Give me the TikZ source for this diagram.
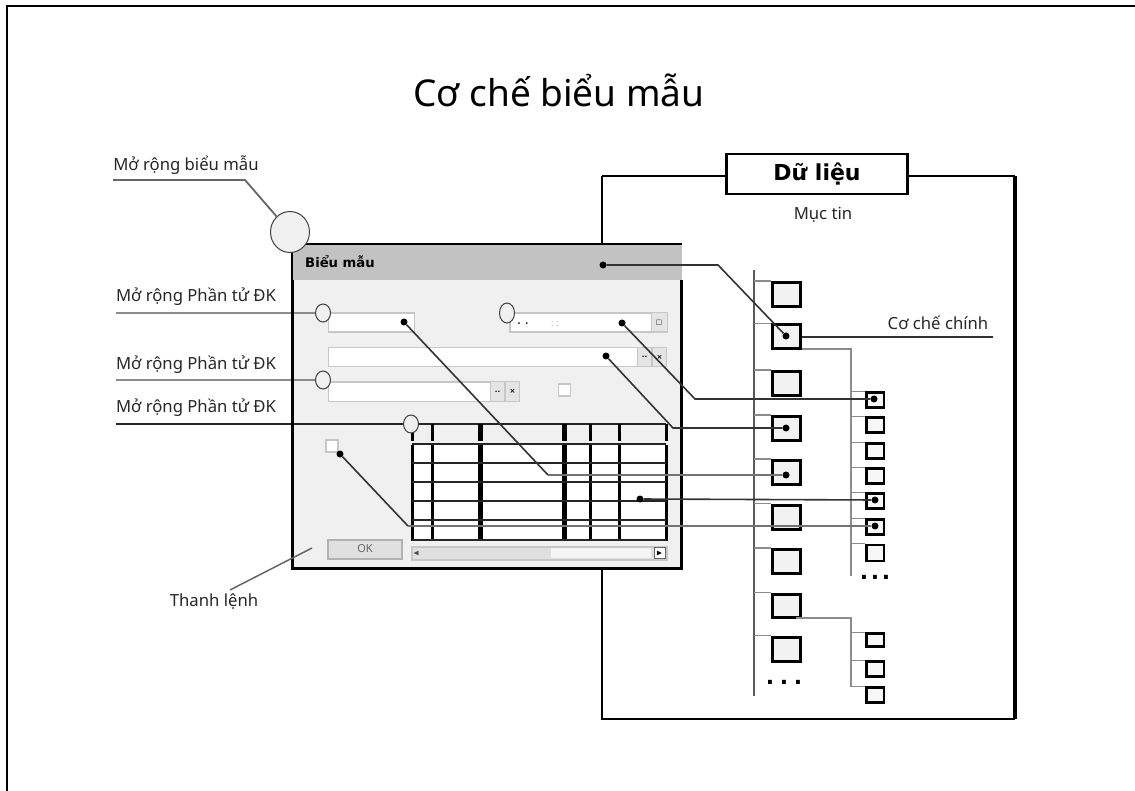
\documentclass[tikz,border=0pt]{standalone}
\usepackage{amssymb}
\usepackage{fontspec}
\setmainfont{Noto Sans}
\newfontfamily\heavyfont{DejaVu Sans}
\usetikzlibrary{
    positioning,
    shapes.geometric,
    calc
}

\begin{document}
\begin{tikzpicture}[
    x=1pt, y=-1pt,
    font=\fontsize{16.7}{20}\selectfont,
    label_text/.style={
        rectangle, draw=none, fill=none, inner sep=0pt, text=black!85
    },
    dots_text/.style={
        rectangle, draw=none, fill=none, inner sep=0pt, text=black,
        font=\fontsize{22}{22}\selectfont\heavyfont\bfseries
    },
    formfield/.style={
        rectangle, draw=black!22, line width=1.5pt, fill=white,
        minimum height=19pt, inner sep=0pt, anchor=north west
    },
    fieldbtn/.style={
        rectangle, draw=black!22, line width=1pt, fill=black!10,
        minimum width=14pt, minimum height=19pt, inner sep=0pt,
        font=\fontsize{7}{8}\selectfont\heavyfont\bfseries
    },
    mainsq/.style={
        rectangle, draw=black, line width=3pt, fill=black!5,
        minimum width=28pt, minimum height=24pt, inner sep=0pt
    },
    subsq/.style={
        rectangle, draw=black, line width=2.5pt, fill=black!3,
        minimum width=17.5pt, minimum height=15pt, inner sep=0pt
    },
    handle/.style={
        ellipse, draw=black!75, line width=1pt, fill=black!6,
        minimum width=15pt, minimum height=18pt, inner sep=0pt
    },
    pin/.style={
        circle, fill=black, minimum size=7pt, inner sep=0pt
    },
    gridv/.style={line width=3pt, black},
    gridh/.style={line width=1.6pt, black!85},
    link/.style={line width=1.6pt, black!80},
    graylink/.style={line width=2.4pt, black!55},
    stub/.style={line width=1.3pt, black!45},
    trunk/.style={line width=1.3pt, black!65}
]
\useasboundingbox (0,0) rectangle (1135,791);

% Page frame
\coordinate (frame_c) at (7,6);
\coordinate (frame_r) at (1135,6);
\coordinate (frame_b) at (7,791);
\draw[line width=2pt, black] (frame_r) -- (frame_c) -- (frame_b);

% Title
\node[label_text, text=black] (title) at (559,90) {\fontsize{37}{42}\selectfont Cơ chế biểu mẫu};

% Data panel
\coordinate (panel_tl) at (602,176);
\coordinate (panel_tr) at (1015,176);
\coordinate (panel_br) at (1015,719);
\coordinate (panel_bl) at (602,719);
\draw[line width=2pt, black] (panel_tl) -- (panel_bl) -- (panel_br);
\draw[line width=2pt, black] (panel_tl) -- (panel_tr);
\draw[line width=4pt, black] (panel_tr) -- (panel_br);
\node[rectangle, draw=black, line width=2.5pt, fill=white, minimum width=181pt,
      minimum height=40pt, inner sep=0pt, font=\fontsize{22}{24}\selectfont\heavyfont\bfseries]
      (data_box) at (817,174) {Dữ liệu};
\node[label_text] (item_label) at (823,215) {Mục tin};

% Form window
\node[rectangle, fill=black!6, minimum width=389pt, minimum height=288pt,
      inner sep=0pt, anchor=north west] (form) at (292,280) {};
\node[rectangle, fill=black!24, minimum width=390pt, minimum height=36pt,
      inner sep=0pt, anchor=north west] (form_bar) at (292,244) {};
\node[label_text, anchor=west, text=black, font=\fontsize{13.2}{15}\selectfont\heavyfont\bfseries]
      (form_label) at (305,262) {Biểu mẫu};
\draw[line width=1.5pt, black] (form_bar.south west) -- (form_bar.north west) -- (form_bar.north east);

% Fields
\node[formfield, minimum width=86pt] (field_a) at (327.5,312.5) {};
\node[formfield, minimum width=157pt] (field_b) at (509,312.5) {};
\node[formfield, minimum width=338pt] (field_c) at (327.5,347) {};
\node[formfield, minimum width=191pt] (field_d) at (327.5,381.5) {};
\node[fieldbtn, anchor=north east, minimum width=16pt] (btn_b) at (field_b.north east) {$\square$};
\node[fieldbtn, anchor=north east] (btn_c2) at (field_c.north east) {×};
\node[fieldbtn, left=0pt of btn_c2] (btn_c1) {..};
\node[fieldbtn, anchor=north east] (btn_d2) at (field_d.north east) {×};
\node[fieldbtn, left=0pt of btn_d2] (btn_d1) {..};
\node[rectangle, draw=black!22, line width=1.5pt, fill=white, minimum size=12pt, inner sep=0pt] (check_a) at (564.5,390) {};
\node[label_text, font=\fontsize{9}{10}\selectfont\heavyfont\bfseries] (field_b_dots) at (523,324) {. .};
\node[label_text, font=\fontsize{9}{10}\selectfont, text=black!35] (field_b_colons) at (555,324) {: :};

% Grid
\node[rectangle, fill=white, minimum width=254pt, minimum height=97pt,
      inner sep=0pt, anchor=north west] (grid_body) at (412,443) {};
\coordinate (grid_head_l) at (412,424);
\coordinate (grid_head_r) at (666,424);
\draw[gridh] (grid_head_l) -- (grid_head_r);
\foreach \gx/\gw in {412/3, 432/3, 480/5, 564/5, 590/3, 619/3, 666/3}{
    \draw[gridv, line width=\gw pt] (\gx,424) -- (\gx,441);
    \draw[gridv, line width=\gw pt] (\gx,445) -- (\gx,541);
}
\foreach \gy in {444, 463, 482, 501, 520, 540}{
    \draw[gridh] (grid_body.west |- 0,\gy) -- (grid_body.east |- 0,\gy);
}

% Scrollbar and buttons
\node[rectangle, draw=black!22, line width=1.5pt, fill=black!12, minimum width=255pt,
      minimum height=13pt, inner sep=0pt, anchor=north west] (scroll) at (411,546) {};
\node[rectangle, fill=black!4, minimum width=100pt, minimum height=10pt, inner sep=0pt,
      anchor=east] (scroll_track) at ([xshift=-16pt]scroll.east) {};
\node[rectangle, draw=black!60, line width=1pt, fill=white, minimum size=11pt, inner sep=0pt,
      anchor=east, font=\fontsize{8}{8}\selectfont] (scroll_right) at ([xshift=-2pt]scroll.east) {$\blacktriangleright$};
\node[label_text, anchor=west, font=\fontsize{8}{8}\selectfont, text=black!70] (scroll_left) at ([xshift=2pt]scroll.west) {$\blacktriangleleft$};
\node[rectangle, draw=black!30, line width=2pt, fill=black!12, minimum width=74pt,
      minimum height=19pt, inner sep=0pt, text=black!60,
      font=\fontsize{11}{12}\selectfont] (ok_btn) at (365,549) {OK};
\node[rectangle, draw=black!22, line width=1.5pt, fill=white, minimum size=12pt, inner sep=0pt] (check_b) at (332,446) {};

% Extension handles of the controls
\node[label_text] (ext_a_label) at (196,297) {Mở rộng Phần tử ĐK};
\node[label_text] (ext_c_label) at (196,365) {Mở rộng Phần tử ĐK};
\node[label_text] (ext_d_label) at (196,408) {Mở rộng Phần tử ĐK};
\coordinate (ext_a_end) at (116,313);
\coordinate (ext_c_end) at (116,380);
\coordinate (ext_d_end) at (116,424);
\coordinate (ext_a_hit) at (323,313);
\coordinate (ext_c_hit) at (323,380);
\coordinate (ext_d_hit) at (411,424);
\draw[line width=2.5pt, black!45] (ext_a_end) -- (ext_a_hit);
\draw[line width=2pt, black!45] (ext_c_end) -- (ext_c_hit);
\draw[line width=1.8pt, black!85] (ext_d_end) -- (ext_d_hit);
\draw[line width=3pt, black] (form.north west) -- (form.south west) -- (form.south east) -- (form.north east);
\node[handle] (ext_a) at (ext_a_hit) {};
\node[handle, minimum height=20pt] (ext_b) at (507,313) {};
\node[handle] (ext_c) at (ext_c_hit) {};
\node[handle] (ext_d) at (ext_d_hit) {};

% Extension handle of the form
\node[handle, minimum width=39pt, minimum height=41pt] (form_ext) at (290,232) {};
\node[label_text] (form_ext_label) at (186,165) {Mở rộng biểu mẫu};
\coordinate (form_ext_end) at (113,180);
\coordinate (form_ext_bend) at (245,180);
\draw[line width=1.8pt, black!60] (form_ext_end) -- (form_ext_bend) -- (form_ext);

% Command bar label
\node[label_text] (cmd_label) at (214,602) {Thanh lệnh};
\coordinate (cmd_a) at (230,590);
\coordinate (cmd_b) at (312,548);
\draw[line width=1.5pt, black!60] (cmd_a) -- (cmd_b);

% Main tree
\coordinate (main_top) at (754,270);
\coordinate (main_bot) at (754,696);
\draw[trunk] (main_top) -- (main_bot);
\node[mainsq] (sq_a) at (786.5,294.5) {};
\node[mainsq] (sq_b) at (786.5,337) {};
\node[mainsq] (sq_c) at (786.5,383.5) {};
\node[mainsq] (sq_d) at (786.5,428.5) {};
\node[mainsq] (sq_e) at (786.5,472.5) {};
\node[mainsq] (sq_f) at (786.5,517) {};
\node[mainsq] (sq_g) at (786.5,561.5) {};
\node[mainsq, minimum height=23pt] (sq_h) at (786.5,605.5) {};
\node[mainsq] (sq_i) at (786.5,649) {};
\node[dots_text] (main_dots) at (784,682) {.\hspace{5.6pt}.\hspace{5.6pt}.};
\foreach \sq in {a,b,c,d,e,f,g,h,i}{
    \draw[stub] (main_top |- sq_\sq.north) -- (sq_\sq.north west);
}

% Main mechanism label
\node[label_text] (main_label) at (938,323) {Cơ chế chính};
\coordinate (main_label_end) at (993,337);
\draw[link] (sq_b.east) -- (main_label_end);

% Sub tree of the second item
\coordinate (subone_top) at (851,349);
\coordinate (subone_bot) at (851,576);
\draw[stub] (sq_b.south east |- subone_top) -- (subone_top) -- (subone_bot);
\node[subsq] (sa_a) at (875,400) {};
\node[subsq] (sa_b) at (875,425) {};
\node[subsq] (sa_c) at (875,451) {};
\node[subsq] (sa_d) at (875,476) {};
\node[subsq] (sa_e) at (875,501) {};
\node[subsq] (sa_f) at (875,527) {};
\node[subsq, minimum height=16pt] (sa_g) at (875,553) {};
\node[dots_text] (subone_dots) at (875,577) {.\hspace{2.6pt}.\hspace{2.6pt}.};
\foreach \sq in {a,b,c,d,e,f,g}{
    \draw[stub] (subone_top |- sa_\sq.north) -- (sa_\sq.north west);
}

% Sub tree of the eighth item
\coordinate (subtwo_top) at (851,618);
\coordinate (subtwo_bot) at (851,687);
\draw[stub] ([xshift=9pt]sq_h.south |- subtwo_top) -- (subtwo_top) -- (subtwo_bot);
\node[subsq, minimum height=13pt] (sb_a) at (875,640) {};
\node[subsq] (sb_b) at (875,669) {};
\node[subsq] (sb_c) at (875,695) {};
\foreach \sq in {a,b,c}{
    \draw[stub] (subtwo_top |- sb_\sq.north) -- (sb_\sq.north west);
}

% Pins
\node[pin] (pin_title) at (603,265) {};
\node[pin] (pin_a) at (404,322) {};
\node[pin] (pin_b) at (622,323) {};
\node[pin] (pin_c) at (606,356) {};
\node[pin] (pin_grid) at (640,499) {};
\node[pin] (pin_check) at (340,454) {};
\node[pin] (pin_sqb) at (786,336) {};
\node[pin] (pin_sqd) at (786,428) {};
\node[pin] (pin_sqe) at (786,475) {};
\node[pin] (pin_sae) at (874,399) {};
\node[pin] (pin_saf) at (875,500) {};
\node[pin] (pin_sag) at (875,526) {};

% Links
\coordinate (bend_title) at (718,265);
\coordinate (bend_a) at (548,475);
\coordinate (bend_b) at (695,399);
\coordinate (bend_c) at (673,428);
\coordinate (bend_check) at (408,526);
\draw[link] (pin_title) -- (bend_title) -- (pin_sqb);
\draw[link] (pin_a) -- (bend_a);
\draw[graylink] (bend_a) -- (pin_sqe);
\draw[link] (pin_b) -- (bend_b) -- (pin_sae);
\draw[link] (pin_c) -- (bend_c) -- (pin_sqd);
\draw[link] (pin_grid) -- (pin_saf);
\draw[link] (pin_check) -- (bend_check);
\draw[graylink] (bend_check) -- (pin_sag);

\end{tikzpicture}
\end{document}
